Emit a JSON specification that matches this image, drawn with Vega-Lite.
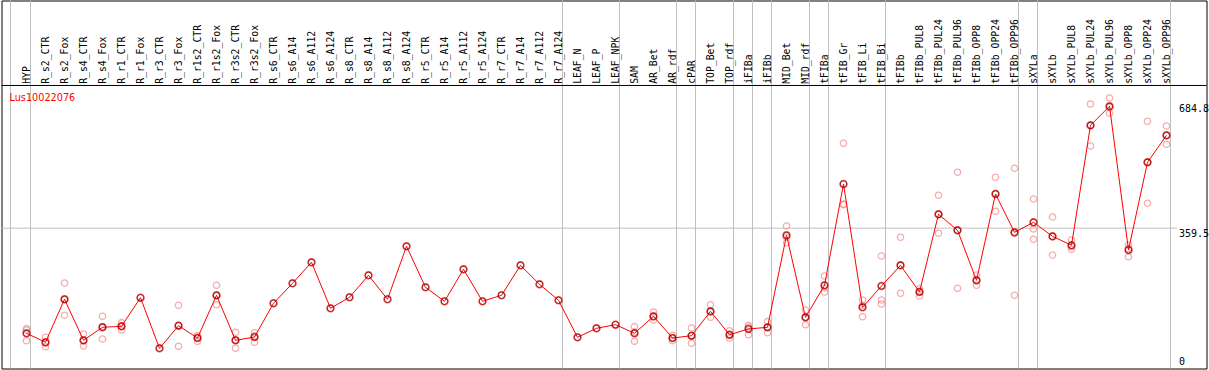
{
  "$schema": "https://vega.github.io/schema/vega-lite/v6.json",
  "width": 1205,
  "height": 368,
  "padding": {"left": 1.5, "top": 0.5, "right": 2.5, "bottom": 1.5},
  "autosize": {"type": "none"},
  "background": "white",
  "config": {"view": {"stroke": "black", "strokeWidth": 1}},
  "datasets": {
    "means": [
      {"idx": 0, "name": "HYP", "value": 85.9},
      {"idx": 1, "name": "R_s2_CTR", "value": 62.5},
      {"idx": 2, "name": "R_s2_Fox", "value": 174.4},
      {"idx": 3, "name": "R_s4_CTR", "value": 67.7},
      {"idx": 4, "name": "R_s4_Fox", "value": 101.5},
      {"idx": 5, "name": "R_r1_CTR", "value": 104.1},
      {"idx": 6, "name": "R_r1_Fox", "value": 178.5},
      {"idx": 7, "name": "R_r3_CTR", "value": 46.8},
      {"idx": 8, "name": "R_r3_Fox", "value": 105.7},
      {"idx": 9, "name": "R_r1s2_CTR", "value": 73.6},
      {"idx": 10, "name": "R_r1s2_Fox", "value": 184.8},
      {"idx": 11, "name": "R_r3s2_CTR", "value": 67.7},
      {"idx": 12, "name": "R_r3s2_Fox", "value": 76.2},
      {"idx": 13, "name": "R_s6_CTR", "value": 164.0},
      {"idx": 14, "name": "R_s6_A14", "value": 216.0},
      {"idx": 15, "name": "R_s6_A112", "value": 270.6},
      {"idx": 16, "name": "R_s6_A124", "value": 150.9},
      {"idx": 17, "name": "R_s8_CTR", "value": 179.6},
      {"idx": 18, "name": "R_s8_A14", "value": 236.8},
      {"idx": 19, "name": "R_s8_A112", "value": 174.4},
      {"idx": 20, "name": "R_s8_A124", "value": 312.3},
      {"idx": 21, "name": "R_r5_CTR", "value": 205.6},
      {"idx": 22, "name": "R_r5_A14", "value": 169.2},
      {"idx": 23, "name": "R_r5_A112", "value": 252.4},
      {"idx": 24, "name": "R_r5_A124", "value": 169.2},
      {"idx": 25, "name": "R_r7_CTR", "value": 184.8},
      {"idx": 26, "name": "R_r7_A14", "value": 262.8},
      {"idx": 27, "name": "R_r7_A112", "value": 213.4},
      {"idx": 28, "name": "R_r7_A124", "value": 171.8},
      {"idx": 29, "name": "LEAF_N", "value": 75.5},
      {"idx": 30, "name": "LEAF_P", "value": 98.9},
      {"idx": 31, "name": "LEAF_NPK", "value": 108.3},
      {"idx": 32, "name": "SAM", "value": 85.9},
      {"idx": 33, "name": "AR_Bet", "value": 130.1},
      {"idx": 34, "name": "AR_rdf", "value": 73.6},
      {"idx": 35, "name": "cPAR", "value": 79.6},
      {"idx": 36, "name": "TOP_Bet", "value": 143.1},
      {"idx": 37, "name": "TOP_rdf", "value": 82.2},
      {"idx": 38, "name": "iFIBa", "value": 97.1},
      {"idx": 39, "name": "iFIBb", "value": 101.5},
      {"idx": 40, "name": "MID_Bet", "value": 340.9},
      {"idx": 41, "name": "MID_rdf", "value": 127.5},
      {"idx": 42, "name": "tFIBa", "value": 210.8},
      {"idx": 43, "name": "tFIB_Gr", "value": 474.4},
      {"idx": 44, "name": "tFIB_Li", "value": 153.5},
      {"idx": 45, "name": "tFIB_Bi", "value": 209.0},
      {"idx": 46, "name": "tFIBb", "value": 262.8},
      {"idx": 47, "name": "tFIBb_PUL8", "value": 193.4},
      {"idx": 48, "name": "tFIBb_PUL24", "value": 395.6},
      {"idx": 49, "name": "tFIBb_PUL96", "value": 353.9},
      {"idx": 50, "name": "tFIBb_OPP8", "value": 223.8},
      {"idx": 51, "name": "tFIBb_OPP24", "value": 448.4},
      {"idx": 52, "name": "tFIBb_OPP96", "value": 348.7},
      {"idx": 53, "name": "sXYLa", "value": 374.7},
      {"idx": 54, "name": "sXYLb", "value": 338.3},
      {"idx": 55, "name": "sXYLb_PUL8", "value": 314.9},
      {"idx": 56, "name": "sXYLb_PUL24", "value": 627.2},
      {"idx": 57, "name": "sXYLb_PUL96", "value": 676.6},
      {"idx": 58, "name": "sXYLb_OPP8", "value": 302.7},
      {"idx": 59, "name": "sXYLb_OPP24", "value": 530.9},
      {"idx": 60, "name": "sXYLb_OPP96", "value": 601.2}
    ],
    "reps": [
      {"idx": 0, "value": 97.9}, {"idx": 0, "value": 94.5}, {"idx": 0, "value": 66.6},
      {"idx": 1, "value": 75.5}, {"idx": 1, "value": 61.0}, {"idx": 1, "value": 51.0},
      {"idx": 2, "value": 216.8}, {"idx": 2, "value": 173.7}, {"idx": 2, "value": 132.7},
      {"idx": 3, "value": 84.1}, {"idx": 3, "value": 66.2}, {"idx": 3, "value": 52.8},
      {"idx": 4, "value": 130.1}, {"idx": 4, "value": 103.4}, {"idx": 4, "value": 71.0},
      {"idx": 5, "value": 113.5}, {"idx": 5, "value": 104.3}, {"idx": 5, "value": 94.5},
      {"idx": 8, "value": 158.7}, {"idx": 8, "value": 106.4}, {"idx": 8, "value": 52.0},
      {"idx": 9, "value": 80.2}, {"idx": 9, "value": 75.5}, {"idx": 9, "value": 65.1},
      {"idx": 10, "value": 210.8}, {"idx": 10, "value": 183.3}, {"idx": 10, "value": 160.3},
      {"idx": 11, "value": 88.5}, {"idx": 11, "value": 67.8}, {"idx": 11, "value": 46.8},
      {"idx": 12, "value": 87.4}, {"idx": 12, "value": 78.7}, {"idx": 12, "value": 62.5},
      {"idx": 32, "value": 103.1}, {"idx": 32, "value": 89.5}, {"idx": 32, "value": 65.1},
      {"idx": 33, "value": 141.3}, {"idx": 33, "value": 128.5}, {"idx": 33, "value": 120.5},
      {"idx": 34, "value": 80.7}, {"idx": 34, "value": 73.5}, {"idx": 34, "value": 66.6},
      {"idx": 35, "value": 99.7}, {"idx": 35, "value": 79.2}, {"idx": 35, "value": 59.9},
      {"idx": 36, "value": 160.3}, {"idx": 36, "value": 141.5}, {"idx": 36, "value": 127.5},
      {"idx": 37, "value": 92.6}, {"idx": 37, "value": 80.4}, {"idx": 37, "value": 73.6},
      {"idx": 38, "value": 106.7}, {"idx": 38, "value": 102.4}, {"idx": 38, "value": 82.2},
      {"idx": 39, "value": 116.1}, {"idx": 39, "value": 101.0}, {"idx": 39, "value": 87.4},
      {"idx": 40, "value": 365.1}, {"idx": 40, "value": 335.9}, {"idx": 40, "value": 321.7},
      {"idx": 41, "value": 146.5}, {"idx": 41, "value": 127.7}, {"idx": 41, "value": 108.3},
      {"idx": 42, "value": 235.0}, {"idx": 42, "value": 204.0}, {"idx": 42, "value": 193.4},
      {"idx": 43, "value": 580.3}, {"idx": 43, "value": 422.4}, {"idx": 43, "value": 420.5},
      {"idx": 44, "value": 172.5}, {"idx": 44, "value": 158.9}, {"idx": 44, "value": 129.1},
      {"idx": 45, "value": 287.0}, {"idx": 45, "value": 172.5}, {"idx": 45, "value": 162.1},
      {"idx": 46, "value": 335.7}, {"idx": 46, "value": 262.7}, {"idx": 46, "value": 190.0},
      {"idx": 47, "value": 202.0}, {"idx": 47, "value": 195.2}, {"idx": 47, "value": 183.0},
      {"idx": 48, "value": 445.0}, {"idx": 48, "value": 395.7}, {"idx": 48, "value": 346.1},
      {"idx": 49, "value": 504.9}, {"idx": 49, "value": 353.8}, {"idx": 49, "value": 203.0},
      {"idx": 50, "value": 237.6}, {"idx": 50, "value": 223.0}, {"idx": 50, "value": 210.8},
      {"idx": 51, "value": 491.9}, {"idx": 51, "value": 449.9}, {"idx": 51, "value": 403.4},
      {"idx": 52, "value": 515.3}, {"idx": 52, "value": 346.0}, {"idx": 52, "value": 184.8},
      {"idx": 53, "value": 435.4}, {"idx": 53, "value": 357.3}, {"idx": 53, "value": 330.5},
      {"idx": 54, "value": 388.5}, {"idx": 54, "value": 336.8}, {"idx": 54, "value": 289.6},
      {"idx": 55, "value": 328.7}, {"idx": 55, "value": 311.5}, {"idx": 55, "value": 304.5},
      {"idx": 56, "value": 682.6}, {"idx": 56, "value": 625.7}, {"idx": 56, "value": 573.3},
      {"idx": 57, "value": 698.2}, {"idx": 57, "value": 673.2}, {"idx": 57, "value": 658.4},
      {"idx": 58, "value": 315.7}, {"idx": 58, "value": 307.2}, {"idx": 58, "value": 285.2},
      {"idx": 59, "value": 637.6}, {"idx": 59, "value": 530.9}, {"idx": 59, "value": 424.2},
      {"idx": 60, "value": 625.4}, {"idx": 60, "value": 600.5}, {"idx": 60, "value": 577.7}
    ],
    "grid": [
      {"pos": -0.842}, {"pos": 0.2105}, {"pos": 28.2105}, {"pos": 31.2105},
      {"pos": 34.2105}, {"pos": 35.2105}, {"pos": 37.2105}, {"pos": 38.2105},
      {"pos": 39.2105}, {"pos": 41.2105}, {"pos": 42.2105}, {"pos": 45.2105},
      {"pos": 52.2105}, {"pos": 53.2105}, {"pos": 60.2105}
    ],
    "gene": [{"gene": "Lus10022076"}]
  },
  "layer": [
    {
      "data": {"name": "grid"},
      "mark": {"type": "rule", "color": "#c0c0c0", "strokeWidth": 1},
      "encoding": {
        "x": {"field": "pos", "type": "quantitative", "axis": null,
              "scale": {"domain": [-1.3158, 62.105], "nice": false, "zero": false}}
      }
    },
    {
      "data": {"values": [{}]},
      "mark": {"type": "rule", "color": "#c0c0c0", "strokeWidth": 1},
      "encoding": {
        "x": {"datum": -1.3158, "type": "quantitative", "axis": null},
        "x2": {"datum": 60.55},
        "y": {"datum": 359.5, "type": "quantitative"}
      }
    },
    {
      "data": {"values": [{}]},
      "mark": {"type": "rule", "color": "black", "strokeWidth": 1},
      "encoding": {
        "y": {"datum": 730.8, "type": "quantitative"}
      }
    },
    {
      "data": {"name": "reps"},
      "mark": {"type": "point", "shape": "circle", "filled": false, "stroke": "#f08c8c", "strokeWidth": 1.3, "size": 40},
      "encoding": {
        "x": {"field": "idx", "type": "quantitative", "axis": null},
        "y": {"field": "value", "type": "quantitative"}
      }
    },
    {
      "data": {"name": "means"},
      "mark": {"type": "line", "color": "#ff0000", "strokeWidth": 1},
      "encoding": {
        "x": {"field": "idx", "type": "quantitative", "axis": null},
        "y": {"field": "value", "type": "quantitative"}
      }
    },
    {
      "data": {"name": "means"},
      "mark": {"type": "point", "shape": "circle", "filled": false, "stroke": "#ff0000", "strokeWidth": 1.6, "size": 48},
      "encoding": {
        "x": {"field": "idx", "type": "quantitative", "axis": null},
        "y": {"field": "value", "type": "quantitative",
              "scale": {"domain": [-5.73, 951.96], "nice": false, "zero": false},
              "axis": {"orient": "right", "values": [0, 359.5, 684.8], "title": null,
                       "labelExpr": "'' + datum.value", "domain": false, "ticks": false, "grid": false,
                       "offset": -28, "labelPadding": 0, "labelAlign": "left",
                       "labelBaseline": {"condition": {"test": "datum.value == 0", "value": "bottom"}, "value": "top"},
                       "labelFont": "DejaVu Sans Mono", "labelFontSize": 10, "labelColor": "black"}}
      }
    },
    {
      "data": {"name": "means"},
      "mark": {"type": "point", "shape": "circle", "filled": false, "stroke": "#000000", "strokeWidth": 0.8, "size": 40, "opacity": 0.55},
      "encoding": {
        "x": {"field": "idx", "type": "quantitative", "axis": null},
        "y": {"field": "value", "type": "quantitative"}
      }
    },
    {
      "data": {"name": "means"},
      "mark": {"type": "text", "angle": 270, "align": "left", "baseline": "middle", "font": "DejaVu Sans Mono", "fontSize": 9.8, "color": "black"},
      "encoding": {
        "x": {"field": "idx", "type": "quantitative", "axis": null},
        "y": {"datum": 735, "type": "quantitative"},
        "text": {"field": "name"}
      }
    },
    {
      "data": {"name": "gene"},
      "mark": {"type": "text", "align": "left", "baseline": "alphabetic", "font": "DejaVu Sans", "fontSize": 9.7, "color": "#ff0000"},
      "encoding": {
        "x": {"datum": -0.895, "type": "quantitative", "axis": null},
        "y": {"datum": 690.4, "type": "quantitative"},
        "text": {"field": "gene"}
      }
    }
  ]
}
